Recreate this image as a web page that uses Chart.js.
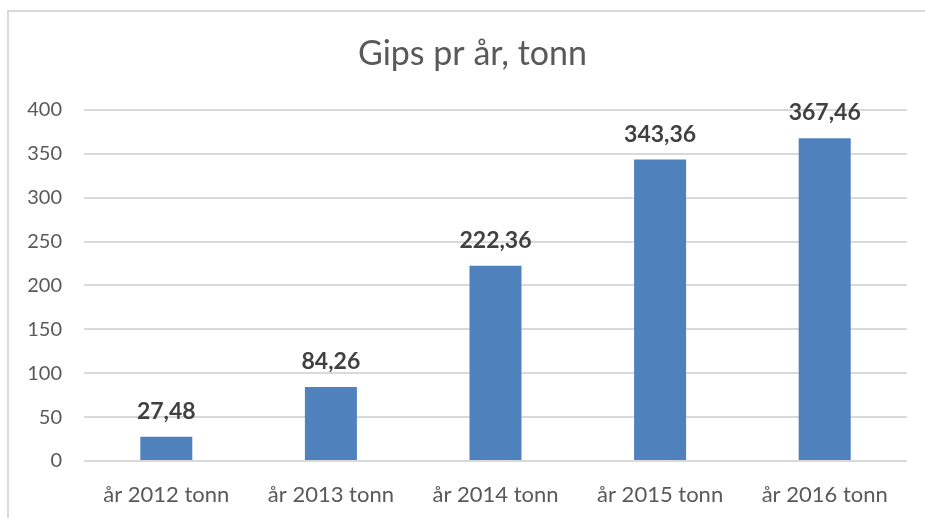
<!DOCTYPE html>
<html>
<head>
<meta charset="utf-8">
<script src="https://cdn.jsdelivr.net/npm/chart.js@4/dist/chart.umd.min.js"></script>
<style>
  html, body { margin: 0; padding: 0; background: #fff; overflow: hidden; }
  #frame { position: absolute; left: 7px; top: 10px; width: 1000px; height: 600px;
           border-left: 2px solid #d9d9d9; border-top: 2px solid #d9d9d9; }
  #c { position: absolute; left: 0; top: 0; }
</style>
</head>
<body>
<div id="frame"></div>
<canvas id="c" width="925" height="518"></canvas>
<script>
const categories = ["år 2012 tonn", "år 2013 tonn", "år 2014 tonn", "år 2015 tonn", "år 2016 tonn"];
const values = [27.48, 84.26, 222.36, 343.36, 367.46];
const valueLabels = ["27,48", "84,26", "222,36", "343,36", "367,46"];
const titleText = "Gips pr år, tonn";

const dataLabelPlugin = {
  id: 'dataLabels',
  afterDatasetsDraw(chart) {
    const ctx = chart.ctx;
    const meta = chart.getDatasetMeta(0);
    ctx.save();
    ctx.font = 'bold 23px Lato';
    ctx.fillStyle = '#404040';
    ctx.textAlign = 'center';
    ctx.textBaseline = 'alphabetic';
    meta.data.forEach((bar, i) => {
      ctx.fillText(valueLabels[i], bar.x, bar.y - 18);
    });
    ctx.restore();
  }
};

new Chart(document.getElementById('c'), {
  type: 'bar',
  data: {
    labels: categories,
    datasets: [{
      data: values,
      backgroundColor: '#4F81BD',
      borderWidth: 0,
      barPercentage: 0.316,
      categoryPercentage: 1.0
    }]
  },
  options: {
    responsive: false,
    animation: false,
    layout: { padding: { left: 20, right: 0, top: 0, bottom: 0 } },
    plugins: {
      legend: { display: false },
      tooltip: { enabled: false },
      title: {
        display: true,
        text: titleText,
        color: '#595959',
        font: { family: 'Lato', size: 34, weight: 'normal' },
        padding: { top: 34, bottom: 35 }
      }
    },
    scales: {
      x: {
        grid: { display: false },
        border: { display: false },
        ticks: { color: '#595959', font: { family: 'Lato', size: 22 }, padding: 13, maxRotation: 0 },
        afterFit(s) { s.height = 57; }
      },
      y: {
        min: 0, max: 400,
        ticks: { stepSize: 50, color: '#595959', font: { family: 'Lato', size: 20 }, padding: 22 },
        grid: { color: '#d9d9d9', lineWidth: 2, drawTicks: false },
        border: { display: false },
        afterFit(s) { s.width = 64; }
      },
      y2: {
        position: 'right',
        min: 0, max: 400,
        ticks: { display: false },
        grid: { display: false, drawTicks: false },
        border: { display: false },
        afterFit(s) { s.width = 18; }
      }
    }
  },
  plugins: [dataLabelPlugin]
});
</script>
</body>
</html>
